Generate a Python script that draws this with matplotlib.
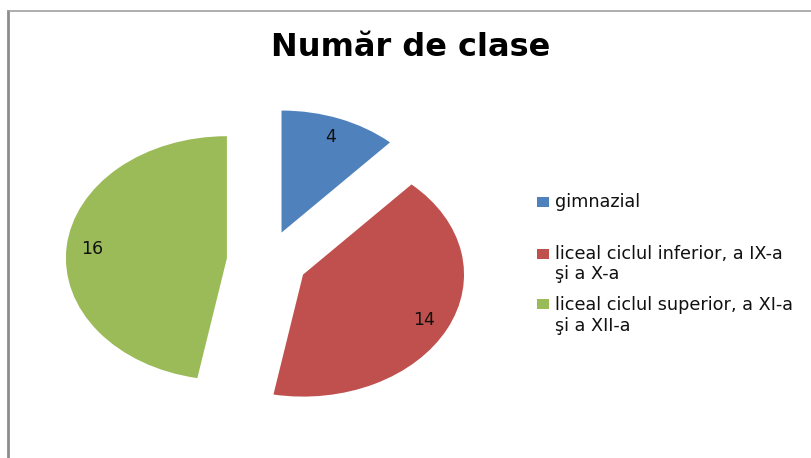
import matplotlib
matplotlib.use("Agg")
import matplotlib.pyplot as plt
from matplotlib.patches import Rectangle
from matplotlib.lines import Line2D

# ---- data ----
title = "Număr de clase"
categories = ["gimnazial",
              "liceal ciclul inferior, a IX-a\nşi a X-a",
              "liceal ciclul superior, a XI-a\nşi a XII-a"]
values = [4, 14, 16]
colors = ["#4F81BD", "#C0504D", "#9BBB59"]
explode = [0.25, 0.25, 0.25]

W, H = 812, 458
fig = plt.figure(figsize=(W / 100, H / 100), dpi=100)
fig.patch.set_facecolor("white")

ax = fig.add_axes([0, 0, 1, 1])
total = sum(values)
ax.pie(values, colors=colors, explode=explode, startangle=90, counterclock=False,
       radius=1.0, center=(0, 0),
       autopct=lambda p: f"{round(p * total / 100):d}", pctdistance=0.84,
       textprops=dict(fontsize=12.5, color="#111111"),
       wedgeprops=dict(linewidth=0))

# elliptical (horizontally stretched) pie as in the reference
cx, cy = 267, H - 261      # pixel center
rx, ry = 161, 122          # pixel radii
ax.set_aspect("auto")
ax.set_xlim(-cx / rx, (W - cx) / rx)
ax.set_ylim(-cy / ry, (H - cy) / ry)
ax.axis("off")

# border lines
fig.add_artist(Line2D([8 / W, 8 / W], [0, 1 - 11 / H], transform=fig.transFigure,
                      color="#8c8c8c", linewidth=2))
fig.add_artist(Line2D([8 / W, 1], [1 - 11 / H, 1 - 11 / H], transform=fig.transFigure,
                      color="#a0a0a0", linewidth=1.2))

# title
fig.text(411 / W, 1 - 56 / H, title, ha="center", va="baseline",
         fontsize=23, fontweight="bold", color="black", family="DejaVu Sans")

# legend (manual to put marker beside first line)
sq_top = [197, 249, 299]
baselines = [[207], [259, 279], [310, 331]]
for lab, col, top, bls in zip(categories, colors, sq_top, baselines):
    fig.add_artist(Rectangle((537 / W, 1 - (top + 10) / H), 12 / W, 10 / H,
                             transform=fig.transFigure, facecolor=col, edgecolor="none"))
    for line, bl in zip(lab.split("\n"), bls):
        fig.text(555 / W, 1 - bl / H, line, ha="left", va="baseline",
                 fontsize=12.7, color="#111111")

fig.savefig("out.png", dpi=100)
